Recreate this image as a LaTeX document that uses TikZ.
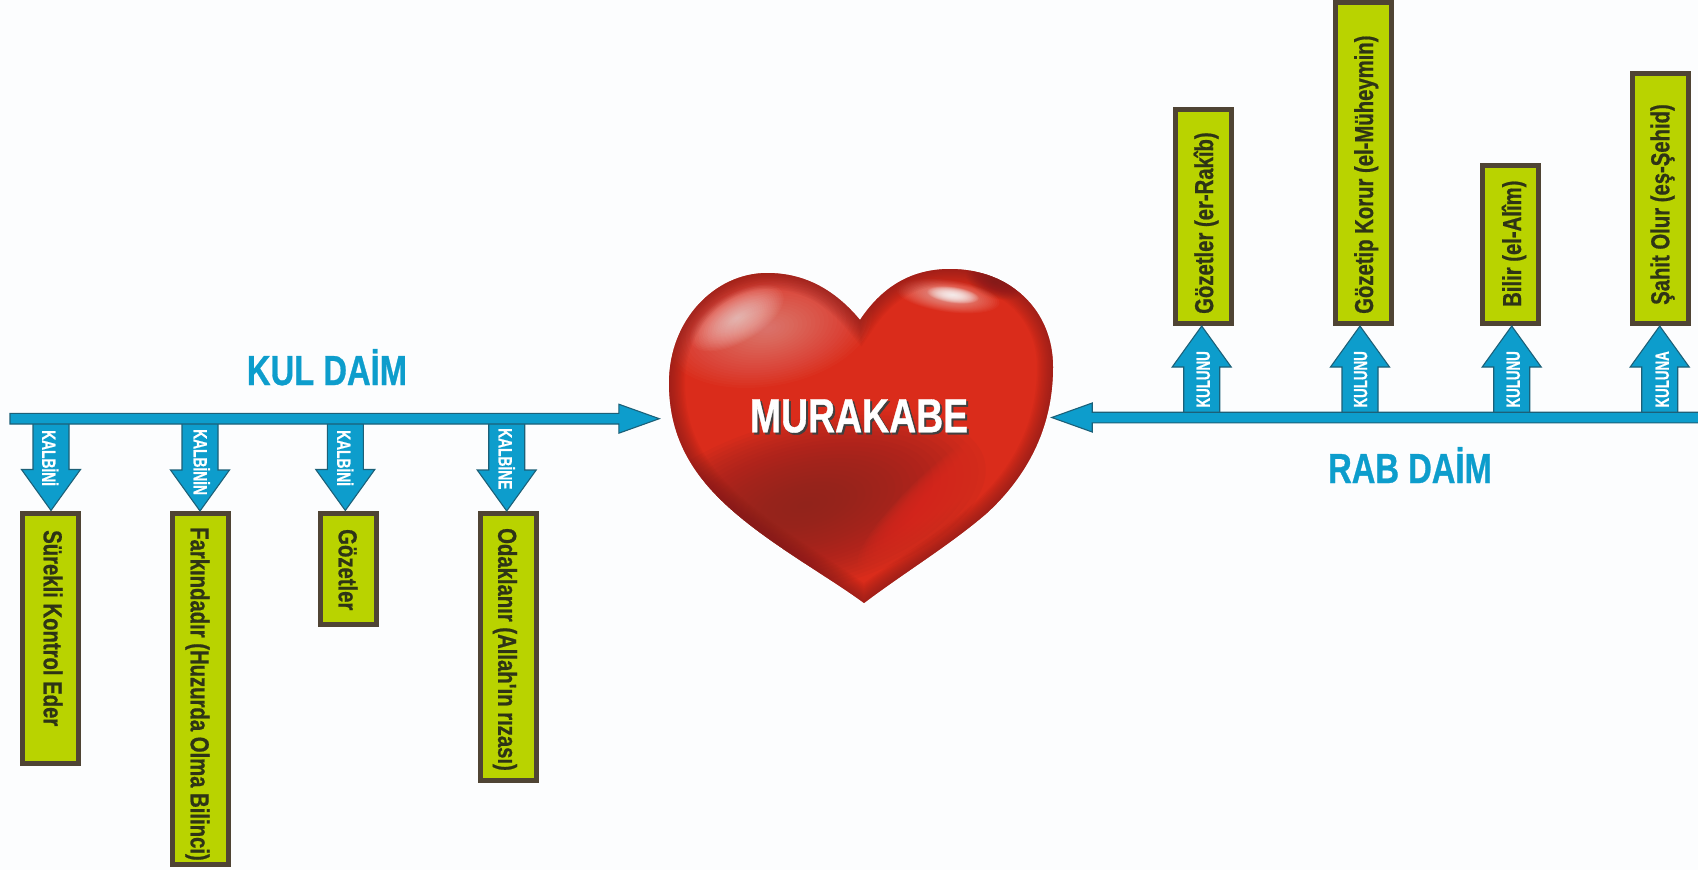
\documentclass[tikz,border=0pt]{standalone}
\usepackage{fontspec}
\usetikzlibrary{calc}
\newfontfamily\nb[FakeStretch=0.78,FakeBold=0.7]{Liberation Sans}
\definecolor{bgc}{HTML}{FCFDFE}
\definecolor{blueA}{HTML}{0D9DCC}
\definecolor{blueE}{HTML}{1C6078}
\definecolor{greenA}{HTML}{B9D300}
\definecolor{brownA}{HTML}{4F4434}
\definecolor{inkA}{HTML}{2E3416}
\definecolor{heartR}{HTML}{DA2C1B}
\definecolor{heartD}{HTML}{8A2320}
\definecolor{heartE}{HTML}{7E1A18}
\tikzset{
  x=1pt,y=-1pt,
  boxA/.style={draw=brownA,line width=5pt,fill=greenA,minimum width=56pt,inner sep=0pt},
  boxtxt/.style={font=\nb\bfseries\fontsize{26}{26}\selectfont,text=inkA,inner sep=0pt,text height=18.6pt,text depth=0pt},
  arrtxt/.style={font=\nb\bfseries\fontsize{19}{19}\selectfont,text=white,inner sep=0pt,text height=13.6pt,text depth=0pt},
  title/.style={font=\nb\bfseries\fontsize{42}{42}\selectfont,text=blueA,inner sep=0pt,text height=30pt,text depth=0pt},
  blockA/.style={draw=blueE,line width=1.1pt,fill=blueA,line join=miter},
}
% vertical block arrow: from bar coordinate #1 to node anchor #2; #3 sideways offset, #4 = +1 points down / -1 points up
\newcommand\vblock[4]{%
  \draw[blockA] let \p1=(#1),\p2=(#2) in
    (\x2+#3pt-18pt,\y1) -- (\x2+#3pt+18pt,\y1) -- (\x2+#3pt+18pt,\y2+#4*41pt)
    -- (\x2+#3pt+29.5pt,\y2+#4*41pt) -- (\x2+#3pt,\y2) -- (\x2+#3pt-29.5pt,\y2+#4*41pt)
    -- (\x2+#3pt-18pt,\y2+#4*41pt) -- cycle;}
% horizontal block arrow from #1 to #2; #3 = +1 points right / -1 points left
\newcommand\hblock[3]{%
  \draw[blockA] let \p1=(#1),\p2=(#2) in
    (\x1,\y1-5.3pt) -- (\x2-#3*40.5pt,\y1-5.3pt) -- (\x2-#3*40.5pt,\y1-14.5pt) -- (\x2,\y1)
    -- (\x2-#3*40.5pt,\y1+14.5pt) -- (\x2-#3*40.5pt,\y1+5.3pt) -- (\x1,\y1+5.3pt) -- cycle;}
\newcommand\softblob[7]{%
  \foreach \i in {1,...,24}{%
    \pgfmathsetmacro\ff{1-(\i-1)/24}%
    \fill[#1,opacity=#7,rotate around={#6:(#2,#3)}] (#2,#3) ellipse [x radius=\ff*#4,y radius=\ff*#5];}}
\def\heartpath{(860,320) .. controls (835,290) and (805,273) .. (767,273)
  .. controls (715,273) and (669,320) .. (669,383)
  .. controls (669,440) and (695,480) .. (740,517)
  .. controls (780,550) and (830,578) .. (864,603)
  .. controls (905,572) and (950,545) .. (987,513)
  .. controls (1025,478) and (1053,430) .. (1053,367)
  .. controls (1053,310) and (1010,269) .. (950,269)
  .. controls (908,269) and (880,290) .. (860,320) -- cycle}
\begin{document}
\begin{tikzpicture}
\useasboundingbox (0,0) rectangle (1698,870);
\fill[bgc] (0,0) rectangle (1698,870);
% heart
\begin{scope}
  \clip \heartpath;
  \fill[heartR] (660,260) rectangle (1060,610);
  \softblob{heartD}{805}{505}{185}{85}{14}{0.075}
  \softblob{heartR}{945}{490}{115}{26}{42}{0.12}
  \softblob{heartR}{1000}{420}{60}{50}{0}{0.06}
  \softblob{white}{768}{328}{105}{58}{10}{0.018}
  \softblob{white}{737}{318}{52}{24}{30}{0.035}
  \softblob{heartE}{995}{282}{30}{16}{-20}{0.05}
  \softblob{white}{948}{296}{52}{16}{-8}{0.03}
  \softblob{white}{953}{295}{26}{8}{-8}{0.08}
  \foreach \w in {32,29,...,2}{\draw[heartE,opacity=0.07,line width=\w pt] \heartpath;}
\end{scope}
\node[inner sep=0pt,font=\nb\bfseries\fontsize{48}{48}\selectfont,text=black!75] (murs) at (861,418) {MURAKABE};
\node[inner sep=0pt,font=\nb\bfseries\fontsize{48}{48}\selectfont,text=white] (mur) at (859,416) {MURAKABE};
\coordinate (heartL) at (659.3,418.5);
\coordinate (heartR) at (1051.7,417.5);
\coordinate (kulbar) at (10,418.7);
\coordinate (rabbar) at (1702,417.5);
% left boxes
\node[boxA,minimum height=250pt] (k1) at (50.8,638) {};
\node[boxA,minimum height=351pt] (k2) at (200.5,689) {};
\node[boxA,minimum height=111pt] (k3) at (348.2,568.5) {};
\node[boxA,minimum height=267pt] (k4) at (508.2,647) {};
\node[boxtxt,rotate=-90,anchor=west] (kt1) at (53,530) {Sürekli Kontrol Eder};
\node[boxtxt,rotate=-90,anchor=west] (kt2) at (200,527) {Farkındadır (Huzurda Olma Bilinci)};
\node[boxtxt,rotate=-90,anchor=west] (kt3) at (348,529) {Gözetler};
\node[boxtxt,rotate=-90,anchor=west] (kt4) at (507.5,528) {Odaklanır (Allah'ın rızası)};
% right boxes
\node[boxA,minimum height=214pt] (r1) at (1203.3,216.5) {};
\node[boxA,minimum height=321pt] (r2) at (1363.7,163) {};
\node[boxA,minimum height=158pt] (r3) at (1510.8,244.5) {};
\node[boxA,minimum height=250pt] (r4) at (1660.7,198.5) {};
\node[boxtxt,rotate=90,anchor=west] (rt1) at (1203.8,314) {Gözetler (er-Rakîb)};
\node[boxtxt,rotate=90,anchor=west] (rt2) at (1363.7,314) {Gözetip Korur (el-Müheymin)};
\node[boxtxt,rotate=90,anchor=west] (rt3) at (1511.7,307) {Bilir (el-Alîm)};
\node[boxtxt,rotate=90,anchor=west] (rt4) at (1660,305) {Şahit Olur (eş-Şehid)};
% branch arrows
\vblock{kulbar}{k1.north}{0.2}{1}
\vblock{kulbar}{k2.north}{-0.5}{1}
\vblock{kulbar}{k3.north}{-2.9}{1}
\vblock{kulbar}{k4.north}{-1.5}{1}
\vblock{rabbar}{r1.south}{-1.6}{-1}
\vblock{rabbar}{r2.south}{-3.7}{-1}
\vblock{rabbar}{r3.south}{0.9}{-1}
\vblock{rabbar}{r4.south}{-1}{-1}
% main arrows
\hblock{kulbar}{heartL}{1}
\hblock{rabbar}{heartR}{-1}
% arrow labels
\node[arrtxt,rotate=-90,anchor=west,xscale=.93] (ka1) at (49,430) {KALBİNİ};
\node[arrtxt,rotate=-90,anchor=west,xscale=.93] (ka2) at (200.5,429) {KALBİNİN};
\node[arrtxt,rotate=-90,anchor=west,xscale=.93] (ka3) at (344,430) {KALBİNİ};
\node[arrtxt,rotate=-90,anchor=west,xscale=.93] (ka4) at (505.5,428) {KALBİNE};
\node[arrtxt,rotate=90,anchor=west,xscale=.9] (ra1) at (1203,407.7) {KULUNU};
\node[arrtxt,rotate=90,anchor=west,xscale=.9] (ra2) at (1360.3,407.7) {KULUNU};
\node[arrtxt,rotate=90,anchor=west,xscale=.9] (ra3) at (1513,407.7) {KULUNU};
\node[arrtxt,rotate=90,anchor=west,xscale=.9] (ra4) at (1662,407.7) {KULUNA};
% titles
\node[title] (kulT) at (327,370) {KUL DAİM};
\node[title] (rabT) at (1410,468) {RAB DAİM};
\end{tikzpicture}
\end{document}
